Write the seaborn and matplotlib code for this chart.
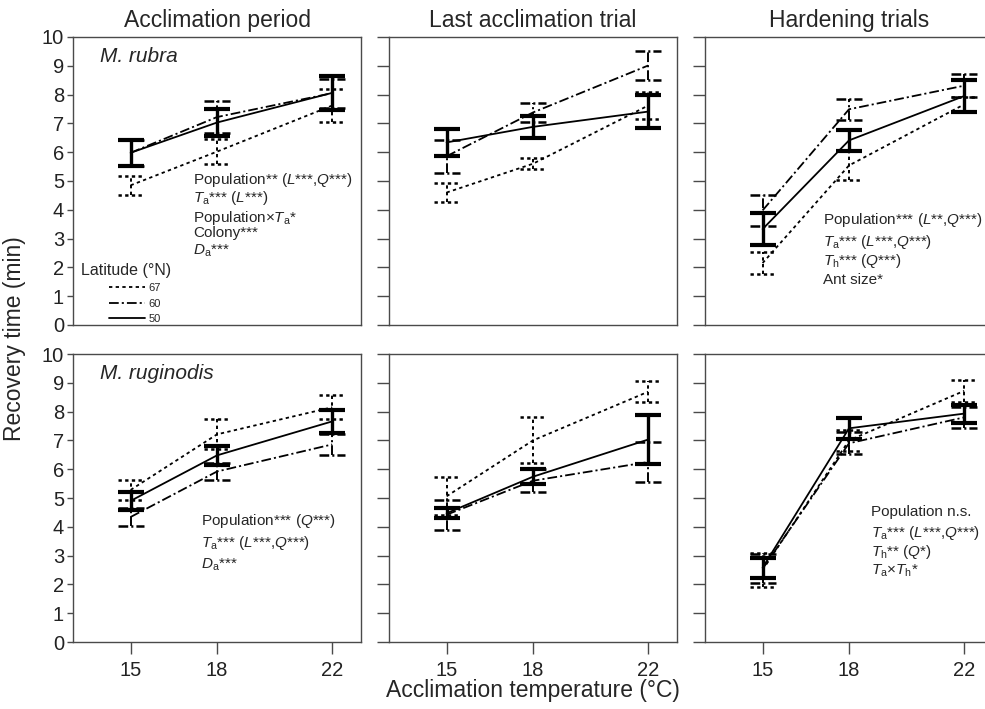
import pandas as pd
import matplotlib.pyplot as plt
import seaborn as sns
from matplotlib.lines import Line2D

# Données (moyenne et erreur standard, temps de récupération en min)
temps = [15, 18, 22]
latitudes = ["67", "60", "50"]
col_titles = ["Acclimation period", "Last acclimation trial", "Hardening trials"]
species = ["M. rubra", "M. ruginodis"]

rubra_period_mean = {"67": [4.85, 6.02, 7.62], "60": [5.98, 7.22, 8.05], "50": [5.98, 7.03, 8.06]}
rubra_period_se = {"67": [0.32, 0.44, 0.58], "60": [0.45, 0.55, 0.50], "50": [0.45, 0.46, 0.60]}
rubra_last_mean = {"67": [4.60, 5.60, 7.62], "60": [5.86, 7.38, 9.01], "50": [6.34, 6.88, 7.41]}
rubra_last_se = {"67": [0.34, 0.19, 0.47], "60": [0.57, 0.33, 0.52], "50": [0.47, 0.38, 0.56]}
rubra_hard_mean = {"67": [2.15, 5.54, 7.66], "60": [3.98, 7.49, 8.31], "50": [3.33, 6.41, 7.95]}
rubra_hard_se = {"67": [0.39, 0.51, 0.25], "60": [0.55, 0.36, 0.39], "50": [0.55, 0.37, 0.54]}

rugi_period_mean = {"67": [5.28, 7.21, 8.15], "60": [4.34, 5.92, 6.86], "50": [4.90, 6.48, 7.66]}
rugi_period_se = {"67": [0.36, 0.52, 0.42], "60": [0.31, 0.30, 0.37], "50": [0.30, 0.32, 0.40]}
rugi_last_mean = {"67": [5.06, 7.00, 8.69], "60": [4.42, 5.60, 6.25], "50": [4.47, 5.74, 7.03]}
rugi_last_se = {"67": [0.66, 0.80, 0.36], "60": [0.52, 0.40, 0.70], "50": [0.17, 0.27, 0.84]}
rugi_hard_mean = {"67": [2.50, 7.00, 8.72], "60": [2.54, 6.90, 7.80], "50": [2.58, 7.42, 7.93]}
rugi_hard_se = {"67": [0.59, 0.37, 0.37], "60": [0.50, 0.38, 0.37], "50": [0.35, 0.37, 0.31]}

panels = [
    [(rubra_period_mean, rubra_period_se), (rubra_last_mean, rubra_last_se), (rubra_hard_mean, rubra_hard_se)],
    [(rugi_period_mean, rugi_period_se), (rugi_last_mean, rugi_last_se), (rugi_hard_mean, rugi_hard_se)],
]

# Textes des résultats statistiques (une liste par panneau)
stats_text = {
    (0, 0): ["Population** ($L$***,$Q$***)", "$T_\\mathrm{a}$*** ($L$***)",
             "Population\u00d7$T_\\mathrm{a}$*", "Colony***", "$D_\\mathrm{a}$***"],
    (0, 2): ["Population*** ($L$**,$Q$***)", "$T_\\mathrm{a}$*** ($L$***,$Q$***)",
             "$T_\\mathrm{h}$*** ($Q$***)", "Ant size*"],
    (1, 0): ["Population*** ($Q$***)", "$T_\\mathrm{a}$*** ($L$***,$Q$***)", "$D_\\mathrm{a}$***"],
    (1, 2): ["Population n.s.", "$T_\\mathrm{a}$*** ($L$***,$Q$***)",
             "$T_\\mathrm{h}$** ($Q$*)", "$T_\\mathrm{a}$\u00d7$T_\\mathrm{h}$*"],
}
# position x et lignes de base (fraction des axes)
text_pos = {
    (0, 0): (0.417, [0.490, 0.426, 0.358, 0.306, 0.244]),
    (0, 2): (0.409, [0.351, 0.276, 0.207, 0.143]),
    (1, 0): (0.444, [0.407, 0.329, 0.254]),
    (1, 2): (0.576, [0.439, 0.364, 0.300, 0.233]),
}

sns.set_style("ticks")
plt.rcParams["font.family"] = ["Liberation Sans", "DejaVu Sans"]
plt.rcParams["mathtext.fontset"] = "custom"
plt.rcParams["mathtext.rm"] = "Liberation Sans"
plt.rcParams["mathtext.it"] = "Liberation Sans:italic"
plt.rcParams["lines.scale_dashes"] = False

dash_styles = {"67": (2.4, 2.4), "60": (7, 2.2, 1.5, 2.2), "50": ""}
ls_styles = {"67": (0, (2.4, 2.4)), "60": (0, (7, 2.2, 1.5, 2.2)), "50": "solid"}
bar_lw = {"67": 1.4, "60": 1.4, "50": 2.4}
cap_lw = {"67": 1.8, "60": 1.8, "50": 3.0}
spine_col = "#4a4a4a"

W, H = 985, 709
fig = plt.figure(figsize=(W / 100, H / 100), dpi=100)
lefts = [73, 389, 705]
tops = [37, 354]
size = 288

for r in range(2):
    for c in range(3):
        ax = fig.add_axes([lefts[c] / W, 1 - (tops[r] + size) / H, size / W, size / H])
        means, ses = panels[r][c]
        rows = []
        for lat in latitudes:
            for t, m, s in zip(temps, means[lat], ses[lat]):
                rows.append({"temp": t, "mean": m, "se": s, "lat": lat})
        df = pd.DataFrame(rows)

        sns.lineplot(data=df, x="temp", y="mean", style="lat", style_order=latitudes,
                     dashes=dash_styles, color="black", linewidth=1.3, legend=False, ax=ax)

        # Barres d'erreur (même style de trait que la série)
        for lat in latitudes:
            d = df[df["lat"] == lat]
            lo = d["mean"] - d["se"]
            hi = d["mean"] + d["se"]
            ax.vlines(d["temp"], lo, hi, colors="black", linestyles=ls_styles[lat], linewidth=bar_lw[lat])
            for y in (lo, hi):
                ax.hlines(y, d["temp"] - 0.45, d["temp"] + 0.45, colors="black",
                          linestyles=ls_styles[lat], linewidth=cap_lw[lat])

        ax.set_xlim(13, 23)
        ax.set_ylim(0, 10)
        ax.set_yticks(range(0, 11))
        ax.set_xticks(temps)
        ax.set_xlabel("")
        ax.set_ylabel("")
        for sp in ax.spines.values():
            sp.set_color(spine_col)
            sp.set_linewidth(1.0)
        ax.tick_params(colors=spine_col, labelcolor="#222222", labelsize=14.5, width=1.0)
        ax.tick_params(axis="y", length=4.5 if c == 0 else 8.5, labelleft=(c == 0), pad=2)
        if r == 0:
            ax.tick_params(axis="x", bottom=False, labelbottom=False)
            ax.set_title(col_titles[c], fontsize=16.5, pad=7)
        else:
            ax.tick_params(axis="x", length=8.5, pad=5)

        if c == 0:
            ax.text(0.094, 0.932, species[r], transform=ax.transAxes, fontsize=15,
                    style="italic", va="center", ha="left")

        if (r, c) in stats_text:
            x0, ys = text_pos[(r, c)]
            for line, y in zip(stats_text[(r, c)], ys):
                ax.text(x0, y, line, transform=ax.transAxes, fontsize=11, va="baseline", ha="left")

        if r == 0 and c == 0:
            handles = [Line2D([], [], color="black", linestyle=ls_styles[lat], linewidth=1.3)
                       for lat in latitudes]
            ax.legend(handles, latitudes, title="Latitude (\u00b0N)    ", title_fontsize=11.5, fontsize=8,
                      frameon=False, handlelength=3.2, handletextpad=0.3, labelspacing=0.5,
                      loc="lower left", bbox_to_anchor=(0.02, -0.005), borderaxespad=0, borderpad=0.2)

fig.text(15 / W, 1 - 339 / H, "Recovery time (min)", rotation=90, fontsize=16.5, va="center", ha="center")
fig.text(533 / W, 1 - 690 / H, "Acclimation temperature (\u00b0C)", fontsize=16.5, va="center", ha="center")

plt.savefig("out.png", dpi=100)
